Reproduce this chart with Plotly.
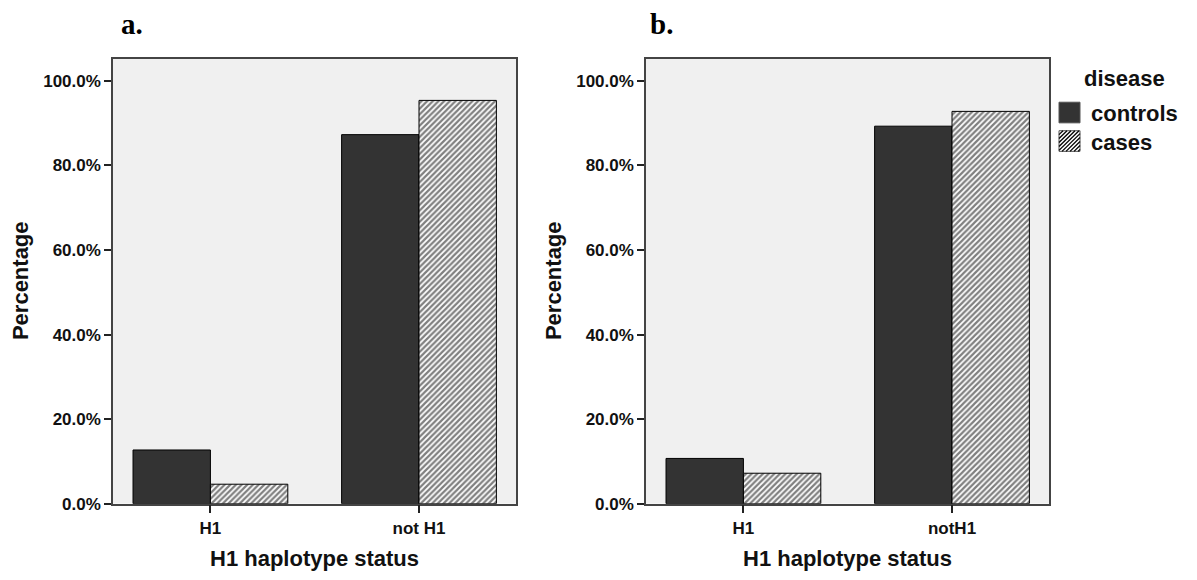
import plotly.graph_objects as go

# Share of subjects (%) in each H1 haplotype group, split by disease status
groups = ["controls", "cases"]
cats_a = ["H1", "not H1"]
cats_b = ["H1", "notH1"]
controls_a = [12.7, 87.3]
cases_a = [4.6, 95.4]
controls_b = [10.7, 89.3]
cases_b = [7.2, 92.8]
y_ticks = [0, 20, 40, 60, 80, 100]

W, H = 1197, 580
FONT = "Liberation Sans, Arial, sans-serif"
DARK = "#333333"
HATCH = dict(shape="/", fgcolor="black", bgcolor="white", size=4, solidity=0.55)


def px(x):
    return x / W


def py(y):
    return 1 - y / H


fig = go.Figure()

panels = [
    ("x", "y", cats_a, controls_a, cases_a),
    ("x2", "y2", cats_b, controls_b, cases_b),
]
for xa, ya, cats, ctrl, cas in panels:
    fig.add_trace(go.Bar(
        x=cats, y=ctrl, name=groups[0], xaxis=xa, yaxis=ya,
        marker=dict(color=DARK, line=dict(color="black", width=1)),
        showlegend=False,
    ))
    fig.add_trace(go.Bar(
        x=cats, y=cas, name=groups[1], xaxis=xa, yaxis=ya,
        marker=dict(color="white", pattern=HATCH, line=dict(color="black", width=1)),
        showlegend=False,
    ))

axis_common = dict(
    showline=True, mirror=True, linecolor="#444444", linewidth=1.5,
    showgrid=False, zeroline=False, ticks="outside", tickcolor="#222222",
    tickwidth=1.5,
    tickfont=dict(family=FONT, size=17, color="#111111", weight="bold"),
)
y_common = dict(
    axis_common, range=[0, 105.2], tickvals=y_ticks,
    ticktext=[f"{v:.1f}%" for v in y_ticks], ticklen=7,
)
x_common = dict(axis_common, type="category", range=[-0.467, 1.465], ticklen=8)

fig.update_layout(
    width=W, height=H,
    margin=dict(l=0, r=0, t=0, b=0),
    paper_bgcolor="white", plot_bgcolor="#f0f0f0",
    barmode="group", bargap=0.258, bargroupgap=0,
    xaxis=dict(x_common, domain=[px(113), px(516)], anchor="y"),
    yaxis=dict(y_common, domain=[py(512.5), py(60)], anchor="x"),
    xaxis2=dict(x_common, domain=[px(646), px(1049)], anchor="y2"),
    yaxis2=dict(y_common, domain=[py(512.5), py(60)], anchor="x2"),
)

title_font = dict(family=FONT, size=22, color="#111111", weight="bold")
label_font = dict(family="Liberation Serif, Times New Roman, serif", size=29,
                  color="black", weight="bold")
annotations = [
    dict(text="a.", x=px(119), y=py(24), xanchor="left", yanchor="middle",
         font=label_font),
    dict(text="b.", x=px(648), y=py(24), xanchor="left", yanchor="middle",
         font=label_font),
    dict(text="H1 haplotype status", x=px(314.5), y=py(568), xanchor="center",
         yanchor="middle", font=title_font),
    dict(text="H1 haplotype status", x=px(847.5), y=py(568), xanchor="center",
         yanchor="middle", font=title_font),
    dict(text="Percentage", x=px(20), y=py(286), textangle=-90, xanchor="center",
         yanchor="middle", font=title_font),
    dict(text="Percentage", x=px(553), y=py(286), textangle=-90, xanchor="center",
         yanchor="middle", font=title_font),
    dict(text="disease", x=px(1082), y=py(80), xanchor="left", yanchor="middle",
         font=dict(family=FONT, size=22, color="#111111", weight="bold")),
]

# Legend: swatch boxes with labels
sw = 21
sw_x0 = 1059
rows = [(104, groups[0]), (133, groups[1])]
shapes = []
for i, (top, label) in enumerate(rows):
    annotations.append(dict(
        text=label, x=px(sw_x0 + sw + 9), y=py(top + sw / 2 + 1),
        xanchor="left", yanchor="middle",
        font=dict(family=FONT, size=22, color="#111111", weight="bold"),
    ))
    fill = DARK if i == 0 else "white"
    shapes.append(dict(type="rect", xref="paper", yref="paper",
                       x0=px(sw_x0), x1=px(sw_x0 + sw), y0=py(top + sw), y1=py(top),
                       fillcolor=fill, line=dict(color="#555555", width=1)))
    if i == 1:
        step = 4
        c = -sw + step
        while c < sw:
            u0, u1 = max(0, c), min(sw, sw + c)
            if u1 > u0:
                shapes.append(dict(
                    type="line", xref="paper", yref="paper",
                    x0=px(sw_x0 + u0), y0=py(top + sw - (u0 - c)),
                    x1=px(sw_x0 + u1), y1=py(top + sw - (u1 - c)),
                    line=dict(color="black", width=1.3)))
            c += step

fig.update_layout(annotations=[dict(a, xref="paper", yref="paper", showarrow=False)
                               for a in annotations],
                  shapes=shapes)

fig.write_html("out.html")
